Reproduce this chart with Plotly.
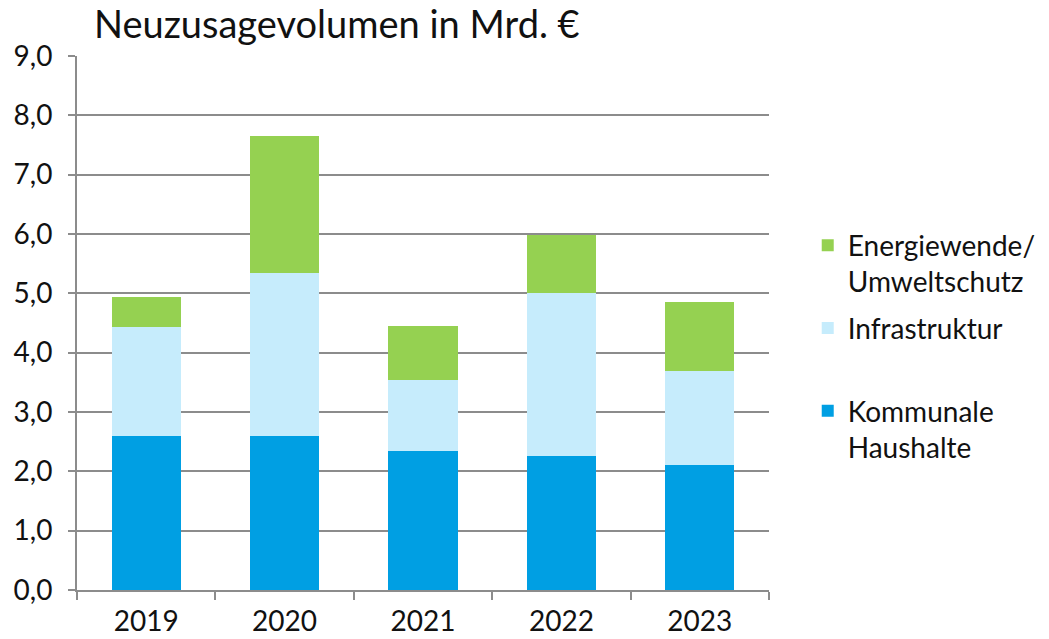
import plotly.graph_objects as go

years = ["2019", "2020", "2021", "2022", "2023"]
kommunale = [2.60, 2.60, 2.35, 2.26, 2.11]
infrastruktur = [1.83, 2.74, 1.19, 2.74, 1.58]
energiewende = [0.51, 2.31, 0.91, 0.98, 1.16]

FONT = "Lato"
GRID = "#8c8c8c"

fig = go.Figure()
fig.add_trace(go.Bar(x=years, y=kommunale, name="Kommunale<br>Haushalte", legendgroup="k",
                     legendrank=3, marker=dict(color="#009FE3", line=dict(width=0))))
fig.add_trace(go.Bar(x=years, y=infrastruktur, name="Infrastruktur<br> ", legendgroup="i",
                     legendrank=2, marker=dict(color="#C6ECFC", line=dict(width=0))))
fig.add_trace(go.Bar(x=years, y=energiewende, name="Energiewende/<br>Umweltschutz", legendgroup="e",
                     legendrank=1, marker=dict(color="#95D151", line=dict(width=0))))

fig.update_layout(
    barmode="stack",
    bargap=0.5,
    width=1049, height=639,
    margin=dict(l=77, r=280, t=56, b=49),
    plot_bgcolor="white", paper_bgcolor="white",
    separators=",.",
    font=dict(family=FONT, size=28, color="#111111"),
    showlegend=True,
    legend=dict(traceorder="grouped", valign="top", xref="container", yref="container",
                x=0.770, xanchor="left", y=0.655, yanchor="top", font=dict(size=28),
                itemwidth=30, tracegroupgap=7),
    annotations=[dict(text="Neuzusagevolumen in Mrd. €", xref="paper", yref="paper",
                      x=0.021, y=1.0, xanchor="left", yanchor="bottom", yshift=8,
                      showarrow=False, font=dict(size=38, family=FONT))],
)
fig.update_xaxes(showline=True, linecolor=GRID, linewidth=2, ticks="outside",
                 tickson="boundaries", ticklen=8, tickcolor=GRID, tickwidth=2,
                 showgrid=False, tickfont=dict(size=28), automargin=False,
                 ticklabelstandoff=5)
fig.update_yaxes(range=[0, 9], dtick=1, tickformat=".1f", showline=True,
                 linecolor=GRID, linewidth=2, showgrid=True, gridcolor=GRID,
                 gridwidth=2, ticks="outside", ticklen=7, tickcolor=GRID,
                 tickwidth=2, zeroline=False, tickfont=dict(size=28), automargin=False,
                 ticklabelstandoff=10)

fig.write_html("out.html", post_script="document.body.style.margin='0';",
               config={"displayModeBar": False})
